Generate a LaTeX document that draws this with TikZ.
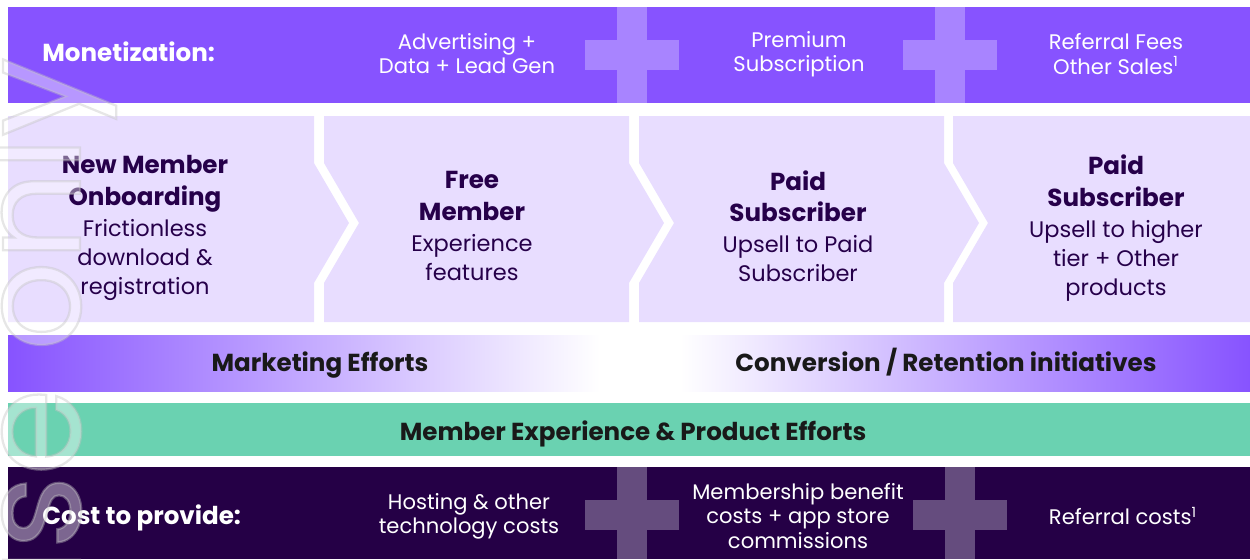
\documentclass[tikz,border=0pt]{standalone}
\usepackage{fontspec}
\setmainfont{Poppins}
\definecolor{monet}{HTML}{8753FF}
\definecolor{monetplus}{HTML}{A884FF}
\definecolor{stage}{HTML}{E8DDFF}
\definecolor{stageink}{HTML}{26004A}
\definecolor{product}{HTML}{6AD2B1}
\definecolor{cost}{HTML}{250046}
\definecolor{costplus}{HTML}{654C7E}
\newcommand{\stagehead}[1]{{\bfseries\fontsize{14}{18}\selectfont #1}}
\tikzset{
  headtxt/.style={text=white, anchor=base west, inner sep=0, font=\bfseries\fontsize{14}{17}\selectfont},
  bandtxt/.style={text=white, align=center, font=\fontsize{12}{13.7}\selectfont},
  stagetxt/.style={text=stageink, align=center, font=\fontsize{12.8}{16.5}\selectfont},
  bartxt/.style={text=black!90, anchor=base, inner sep=0, font=\bfseries\fontsize{14}{17}\selectfont}
}
\begin{document}
\begin{tikzpicture}[x=0.02cm,y=-0.02cm]
  \useasboundingbox (0,0) rectangle (1250,559);
  % monetization band
  \fill[monet] (8,7) rectangle (1250,103);
  \foreach \px in {632,950} {
    \fill[monetplus] (\px-15,7) rectangle (\px+15,103);
    \fill[monetplus] (\px-47,40) rectangle (\px+47,70);
  }
  % member stages
  \fill[stage] (8,116) -- (314,116) -- (314,163) -- (349,223) -- (314,283) -- (314,322) -- (8,322) -- cycle;
  \foreach \lx/\rx in {324/629,639/944} {
    \fill[stage] (\lx,116) -- (\rx,116) -- (\rx,163) -- (\rx+35,223) -- (\rx,283) -- (\rx,322)
      -- (\lx,322) -- (\lx,283) -- (\lx+35,223) -- (\lx,163) -- cycle;
  }
  \fill[stage] (953,116) -- (1250,116) -- (1250,322) -- (953,322) -- (953,283) -- (988,223) -- (953,163) -- cycle;
  % effort bars
  \fill[left color=monet, right color=white] (8,335) rectangle (600,391);
  \fill[white] (600,335) rectangle (680,391);
  \fill[left color=white, right color=monet] (680,335) rectangle (1250,391);
  \fill[product] (8,403) rectangle (1250,456);
  % cost band
  \fill[cost] (8,467) rectangle (1250,559);
  \foreach \px in {632,960} {
    \fill[costplus] (\px-15,467) rectangle (\px+15,559);
    \fill[costplus] (\px-47,500) rectangle (\px+47,530);
  }

  \node[headtxt] (monetlbl) at (42,61) {Monetization:};
  \node[bandtxt] (adv) at (467,54) {Advertising +\\Data + Lead Gen};
  \node[bandtxt] (prem) at (799,54) {Premium\\Subscription};
  \node[bandtxt] (refer) at (1116,54) {Referral Fees\\Other Sales\textsuperscript{1}};

  \node[stagetxt] (onboard) at (145,228) {\stagehead{New Member}\\[1.5pt]\stagehead{Onboarding}\\[1pt]Frictionless\\download \&\\registration};
  \node[stagetxt] (free) at (472,226) {\stagehead{Free}\\[1.5pt]\stagehead{Member}\\[1pt]Experience\\features};
  \node[stagetxt] (paid) at (798,226) {\stagehead{Paid}\\[1.5pt]\stagehead{Subscriber}\\[1pt]Upsell to Paid\\Subscriber};
  \node[stagetxt] (upsell) at (1116,228) {\stagehead{Paid}\\[1.5pt]\stagehead{Subscriber}\\[1pt]Upsell to higher\\tier + Other\\products};

  \node[bartxt] (mkt) at (320,371) {Marketing Efforts};
  \node[bartxt] (conv) at (946,371) {Conversion / Retention initiatives};
  \node[bartxt] (prod) at (633,440) {Member Experience \& Product Efforts};

  \node[headtxt] (costlbl) at (42,524) {Cost to provide:};
  \node[bandtxt] (host) at (469,516) {Hosting \& other\\technology costs};
  \node[bandtxt] (benefit) at (798,516) {Membership benefit\\costs + app store\\commissions};
  \node[bandtxt] (refcost) at (1123,516) {Referral costs\textsuperscript{1}};

  % watermark
  \begin{scope}
    \clip (0,0) rectangle (1250,559);
    \node[rotate=90, anchor=base east, inner sep=0, text=white, text opacity=0.4,
      font=\fontsize{80}{80}\selectfont] (wmark) at (80,57)
      {\special{pdf:code 2 Tr 1.3 w 0.76 0.76 0.76 RG}use only\special{pdf:code 0 Tr}};
  \end{scope}
\end{tikzpicture}
\end{document}
